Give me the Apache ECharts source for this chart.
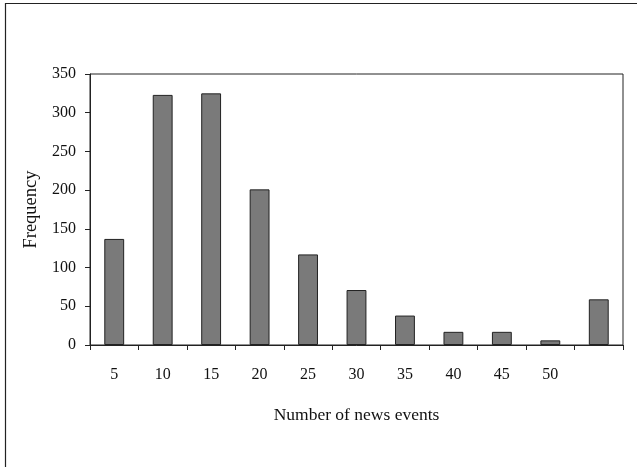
<!DOCTYPE html>
<html><head><meta charset="utf-8">
<script src="https://cdn.jsdelivr.net/npm/echarts@6/dist/echarts.min.js"></script>
<style>html,body{margin:0;padding:0;background:#fff}#c{width:637px;height:467px}</style>
</head><body><div id="c"></div>
<script>
var categories = ['5','10','15','20','25','30','35','40','45','50',''];
var frequency = [137, 323, 325, 201, 117, 71, 38, 17, 17, 6, 59];
var yTicks = [0, 50, 100, 150, 200, 250, 300, 350];
var FONT = 'Liberation Serif';
var chart = echarts.init(document.getElementById('c'), null, {renderer:'canvas'});
chart.setOption({
  animation:false,
  backgroundColor:'#fff',
  graphic:[{type:'rect', shape:{x:5.5,y:3.5,width:700,height:500}, style:{fill:'none', stroke:'#222', lineWidth:1.2}, z:-1}],
  grid:{left:90, top:74, right:14, bottom:122, show:true, borderColor:'#222', borderWidth:1},
  xAxis:{type:'category', data:categories,
    name:'Number of news events', nameLocation:'middle', nameGap:61,
    nameTextStyle:{fontFamily:FONT, fontSize:17.5, color:'#111'},
    axisLine:{lineStyle:{color:'#222', width:1}},
    axisTick:{show:true, length:5, lineStyle:{color:'#222'}},
    axisLabel:{fontFamily:FONT, fontSize:16, color:'#111', margin:22}},
  yAxis:{type:'value', min:yTicks[0], max:yTicks[yTicks.length-1], interval:50,
    name:'Frequency', nameLocation:'middle', nameGap:48,
    nameTextStyle:{fontFamily:FONT, fontSize:18.5, color:'#111'},
    axisLine:{show:true, lineStyle:{color:'#222', width:1}},
    axisTick:{show:true, length:5, lineStyle:{color:'#222'}},
    axisLabel:{fontFamily:FONT, fontSize:16, color:'#111', margin:14},
    splitLine:{show:false}},
  series:[{type:'bar', data:frequency, barWidth:'41%',
    itemStyle:{color:'#7a7a7a', borderColor:'#222', borderWidth:1}}]
});
</script></body></html>
